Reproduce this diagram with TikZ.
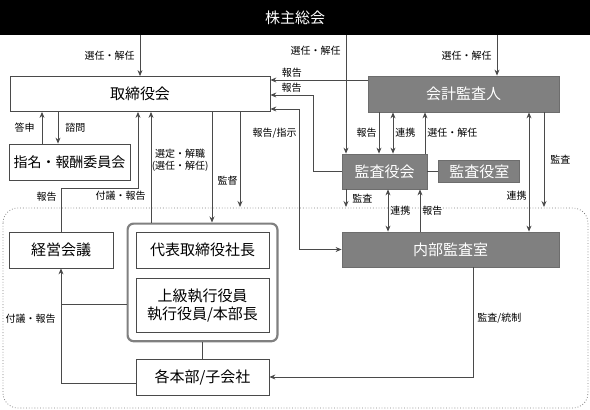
\documentclass[tikz,border=0pt]{standalone}
\usepackage{fontspec}
\setmainfont{Noto Sans CJK JP}
\usetikzlibrary{arrows.meta, fit, positioning}
\definecolor{boxgray}{HTML}{808080}
\definecolor{linegray}{HTML}{4A4A4A}

\begin{document}
\begin{tikzpicture}[x=1pt, y=-1pt, >={Stealth[length=6pt,width=5pt]},
    wbox/.style={draw=linegray, fill=white, line width=0.8pt, inner sep=0pt,
                 font=\fontsize{15}{18}\selectfont},
    gbox/.style={wbox, fill=boxgray, draw=boxgray!85!black, text=white},
    grp/.style={draw=boxgray, line width=2.2pt, rounded corners=6pt, inner sep=8pt},
    lbl/.style={font=\fontsize{10}{12}\selectfont, inner sep=2pt},
    conn/.style={draw=linegray, line width=0.8pt}]

    \useasboundingbox (0,0) rectangle (590,410);
    \draw[dotted, draw=gray, line width=0.8pt, rounded corners=15pt] (3,208) rectangle (588,408);

    \node[fill=black, text=white, minimum width=590pt, minimum height=35pt, inner sep=0pt,
          font=\fontsize{15}{18}\selectfont] (kabu) at (295,17.5) {株主総会};

    \node[wbox, minimum width=260pt, minimum height=35pt] (tori) at (140,94) {取締役会};
    \node[gbox, minimum width=191pt, minimum height=36pt] (kaikei) at (463.5,94) {会計監査人};
    \node[gbox, minimum width=85pt, minimum height=35pt] (kansa) at (384.5,171.5) {監査役会};
    \node[gbox, minimum width=81pt, minimum height=22pt] (kshitsu) [right=11pt of kansa] {監査役室};
    \node[gbox, minimum width=217pt, minimum height=35pt] (naibu) at (450.5,249.5) {内部監査室};
    \node[wbox, minimum width=121pt, minimum height=36pt, font=\fontsize{14}{17}\selectfont]
        (shimei) at (69.5,162) {指名・報酬委員会};
    \node[wbox, minimum width=104pt, minimum height=36pt] (keiei) at (61,250) {経営会議};
    \node[wbox, minimum width=133pt, minimum height=36pt] (shacho) at (202.5,250) {代表取締役社長};
    \node[wbox, minimum width=133pt, minimum height=54pt, align=center] (shikko) [below=10pt of shacho]
        {上級執行役員\\執行役員/本部長};
    \node[grp, fit=(shacho)(shikko)] (exec) {};
    \node[wbox, minimum width=133pt, minimum height=36pt] (kaku) at (202.5,377) {各本部/子会社};

    % columns and rows for the connectors
    \coordinate (xA) at (42,0);   \coordinate (xB) at (58,0);
    \coordinate (xC) at (138,0);  \coordinate (xD) at (151,0);
    \coordinate (xE) at (212,0);  \coordinate (xG) at (497,0);
    \coordinate (xH) at (346,0);  \coordinate (xI) at (313,0);
    \coordinate (xJ) at (299,0);  \coordinate (xK) at (379,0);
    \coordinate (xL) at (393,0);  \coordinate (xM) at (425,0);
    \coordinate (xN) at (388,0);  \coordinate (xO) at (420,0);
    \coordinate (xP) at (529,0);  \coordinate (xQ) at (473,0);
    \coordinate (yA) at (0,80);   \coordinate (yB) at (0,95);
    \coordinate (yC) at (0,109);  \coordinate (yD) at (0,188);
    \coordinate (yE) at (0,304);  \coordinate (yF) at (0,383);
    \coordinate (eA) at (240,207); \coordinate (eB) at (346,207);
    \coordinate (eC) at (544,207);

    % shareholders
    \draw[conn,->] (kabu.south -| tori.north) -- (tori.north) node[lbl, midway, left=3pt]{選任・解任};
    \draw[conn,->] (kabu.south -| xG) -- (kaikei.north -| xG) node[lbl, midway, left=3pt]{選任・解任};
    \draw[conn,->] (kabu.south -| xH) -- (kansa.north -| xH) node[lbl, pos=0.13, left=3pt]{選任・解任};

    % reports to the board
    \draw[conn,->] (kaikei.west |- yA) -- (tori.east |- yA) node[lbl, pos=0.78, above]{報告};
    \draw[conn,->] (kansa.west) -| (xI |- yB) -- (tori.east |- yB) node[lbl, midway, above]{報告};
    \draw[conn,<->] (tori.east |- yC) -| (xJ |- naibu.west) node[lbl, pos=0.585, left]{報告/指示}
        -- (naibu.west);

    % committee
    \draw[conn,->] (shimei.north -| xA) -- (tori.south -| xA) node[lbl, midway, left=5pt]{答申};
    \draw[conn,->] (tori.south -| xB) -- (shimei.north -| xB) node[lbl, midway, right=5pt]{諮問};

    % executives
    \draw[conn,->] (keiei.north) |- (xC |- yD) node[lbl, pos=0.4, left=2pt]{報告} -- (xC |- tori.south);
    \draw[conn,->] (exec.north -| xD) -- (tori.south -| xD) node[lbl, pos=0.24, left=3pt]{付議・報告};
    \draw[conn,->] (tori.south -| xE) -- (exec.north -| xE)
        node[lbl, pos=0.44, left=1pt, align=center]{選定・解職\\(選任・解任)};
    \draw[conn,->] (tori.south -| eA) -- (eA) node[lbl, pos=0.72, left=0pt]{監督};

    % auditors
    \draw[conn,->] (kaikei.south -| xK) -- (kansa.north -| xK) node[lbl, midway, left]{報告};
    \draw[conn,<->] (kaikei.south -| xL) -- (kansa.north -| xL) node[lbl, midway, right]{連携};
    \draw[conn,->] (kansa.north -| xM) -- (kaikei.south -| xM) node[lbl, midway, right]{選任・解任};
    \draw[conn] (kansa) -- (kshitsu);
    \draw[conn,->] (kansa.south -| eB) -- (eB) node[lbl, midway, right=4pt]{監査};
    \draw[conn,<->] (kansa.south -| xN) -- (naibu.north -| xN) node[lbl, midway, right]{連携};
    \draw[conn,->] (naibu.north -| xO) -- (kansa.south -| xO) node[lbl, midway, right]{報告};
    \draw[conn,<->] (kaikei.south -| xP) -- (naibu.north -| xP) node[lbl, pos=0.7, left]{連携};
    \draw[conn,->] (kaikei.south -| eC) -- (eC) node[lbl, pos=0.5, right=4pt]{監査};

    % internal audit and divisions
    \draw[conn,->] (naibu.south -| xQ) |- (kaku.east) node[lbl, pos=0.23, right=2pt]{監査/統制};
    \draw[conn] (exec.south -| kaku.north) -- (kaku.north);
    \draw[conn] (exec.west |- yE) -- (keiei.south |- yE);
    \draw[conn,->] (kaku.west |- yF) -| (keiei.south) node[lbl, pos=0.78, left=3pt]{付議・報告};
\end{tikzpicture}
\end{document}
